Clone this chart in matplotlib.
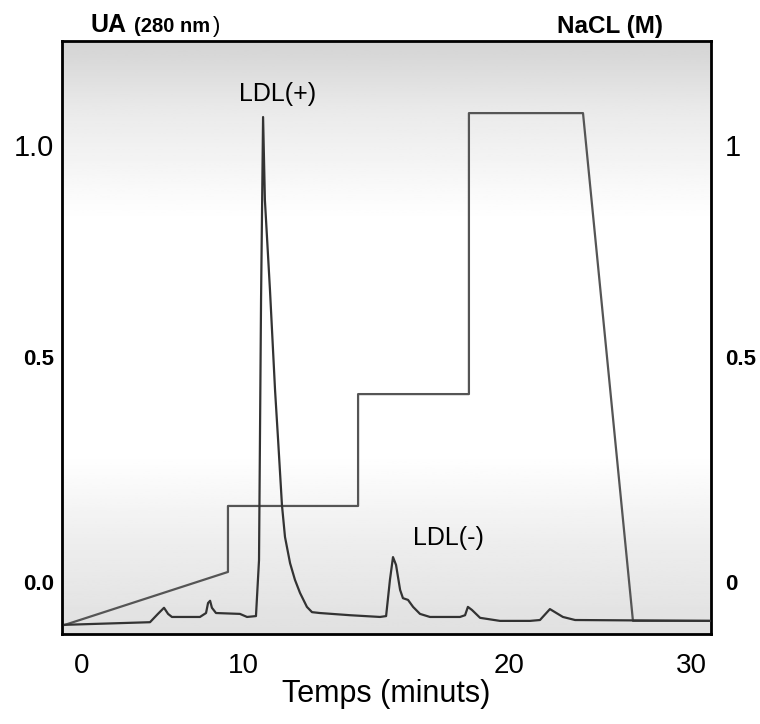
import numpy as np
import matplotlib.pyplot as plt

plt.rcParams['font.family'] = ['Liberation Sans', 'DejaVu Sans']

# absorbance trace (time in minutes as drawn, UA)
t_abs = [-0.84, 3.35, 3.74, 4.04, 4.24, 4.43, 5.81, 6.11, 6.21, 6.31, 6.40, 6.60,
         7.78, 8.13, 8.57, 8.72, 8.82, 8.92, 9.01, 9.26, 9.51, 9.66, 9.85,
         10.00, 10.25, 10.49, 10.74, 11.08, 11.33, 11.72, 13.20, 14.68, 14.98,
         15.17, 15.32, 15.47, 15.67, 15.81, 16.06, 16.31, 16.65, 17.14, 18.62,
         18.87, 19.01, 19.21, 19.61, 20.59, 22.07, 22.56, 23.05, 23.69, 24.29, 30.99]
ua = [-0.098, -0.092, -0.073, -0.059, -0.073, -0.080, -0.080, -0.071, -0.048, -0.043,
      -0.059, -0.071, -0.073, -0.080, -0.078, 0.050, 0.645, 1.064, 0.874,
      0.668, 0.439, 0.325, 0.176, 0.103, 0.043, 0.005, -0.025, -0.057, -0.069,
      -0.071, -0.076, -0.080, -0.078, 0.005, 0.057, 0.039, -0.018, -0.037, -0.041,
      -0.057, -0.073, -0.080, -0.080, -0.076, -0.057, -0.064, -0.082, -0.089,
      -0.089, -0.087, -0.062, -0.080, -0.087, -0.089]

# NaCl gradient (M)
t_nacl = [-0.84, 7.19, 7.19, 13.60, 13.60, 19.06, 19.06, 24.68, 27.14, 30.99]
nacl = [-0.098, 0.023, 0.174, 0.174, 0.430, 0.430, 1.073, 1.073, -0.089, -0.089]

x_ticks = [0, 7.93, 21.03, 30]
x_labels = ['0', '10', '20', '30']
y_ticks = [0, 0.515, 1.0]
ua_labels = ['0.0', '0.5', '1.0']
nacl_labels = ['0', '0.5', '1']

fig = plt.figure(figsize=(7.6, 7.24), dpi=100)
ax = fig.add_axes([62 / 760, 1 - 634 / 724, 649 / 760, 593 / 724])

# scanned paper look
grad = np.interp(np.linspace(0, 1, 300), [0, 0.12, 0.3, 0.7, 0.85, 1.0],
                 [0.83, 0.92, 1.0, 1.0, 0.93, 0.88])
ax.imshow(grad[:, None], extent=[0, 1, 0, 1], transform=ax.transAxes,
          cmap='gray', vmin=0, vmax=1, aspect='auto', zorder=0)

ax.plot(t_nacl, nacl, color='#555555', lw=1.6, zorder=2)
ax.plot(t_abs, ua, color='#333333', lw=1.6, zorder=3)

ax.set_xlim(-0.985, 30.985)
ax.set_ylim(-0.119, 1.238)
ax.set_xticks(x_ticks, x_labels, fontsize=20)
ax.set_yticks(y_ticks, ua_labels)
ax.tick_params(length=0)
ax.tick_params(axis='x', pad=14)
ax.tick_params(axis='y', pad=6)
for lab, sz, wt in zip(ax.get_yticklabels(), [16, 16, 21], ['bold', 'bold', 'normal']):
    lab.set_fontsize(sz)
    lab.set_fontweight(wt)
ax.set_xlabel('Temps (minuts)', fontsize=22, labelpad=0)
for s in ax.spines.values():
    s.set_linewidth(2)

ax2 = ax.twinx()
ax2.set_ylim(ax.get_ylim())
ax2.set_yticks(y_ticks, nacl_labels)
ax2.tick_params(length=0, pad=10)
for lab, sz, wt in zip(ax2.get_yticklabels(), [16, 16, 21], ['bold', 'bold', 'normal']):
    lab.set_fontsize(sz)
    lab.set_fontweight(wt)

ax.text(7.75, 1.1, 'LDL(+)', fontsize=18)
ax.text(16.3, 0.085, 'LDL(-)', fontsize=18)

fig.text(90 / 760, 1 - 32 / 724, 'UA', fontsize=18, fontweight='bold')
fig.text(134 / 760, 1 - 32 / 724, '(280 nm', fontsize=14.5, fontweight='bold')
fig.text(213 / 760, 1 - 32 / 724, ')', fontsize=16)
fig.text(557 / 760, 1 - 33 / 724, 'NaCL (M)', fontsize=17.5, fontweight='bold')

fig.savefig('out.png', dpi=100)
